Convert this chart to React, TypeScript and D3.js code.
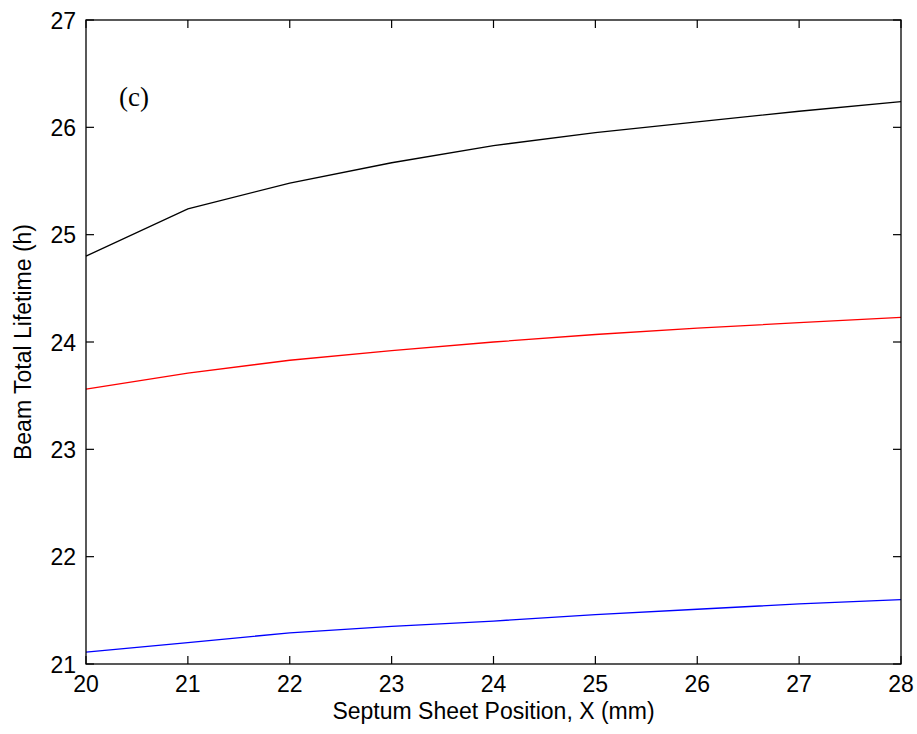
import React from "react";
import * as d3 from "d3";

const xValues = [20, 21, 22, 23, 24, 25, 26, 27, 28];
const blackSeries = [24.8, 25.24, 25.48, 25.67, 25.83, 25.95, 26.05, 26.15, 26.24];
const redSeries = [23.56, 23.71, 23.83, 23.92, 24.0, 24.07, 24.13, 24.18, 24.23];
const blueSeries = [21.11, 21.2, 21.29, 21.35, 21.4, 21.46, 21.51, 21.56, 21.6];
const xTicks = [20, 21, 22, 23, 24, 25, 26, 27, 28];
const yTicks = [21, 22, 23, 24, 25, 26, 27];
const xLabel = "Septum Sheet Position, X (mm)";
const yLabel = "Beam Total Lifetime (h)";
const panelLabel = "(c)";

const W = 917;
const H = 734;
const left = 86;
const right = 901;
const top = 20;
const bottom = 664;
const tickLen = 8;
const font = "'Liberation Sans', Arial, sans-serif";

export default function App() {
  const x = d3.scaleLinear().domain([20, 28]).range([left, right]);
  const y = d3.scaleLinear().domain([21, 27]).range([bottom, top]);
  const line = d3
    .line<number>()
    .x((_, i) => x(xValues[i]))
    .y((d) => y(d));

  const series = [
    { data: blackSeries, color: "#000000" },
    { data: redSeries, color: "#ff0000" },
    { data: blueSeries, color: "#0000ff" },
  ];

  return (
    <svg
      width={W}
      height={H}
      style={{ position: "absolute", left: 0, top: 0, background: "#fff" }}
    >
      <rect x={0} y={0} width={W} height={H} fill="#fff" />
      {series.map((s, i) => (
        <path
          key={i}
          d={line(s.data) || ""}
          fill="none"
          stroke={s.color}
          strokeWidth={1.3}
        />
      ))}
      <rect
        x={left}
        y={top}
        width={right - left}
        height={bottom - top}
        fill="none"
        stroke="#000"
        strokeWidth={1.3}
      />
      {xTicks.map((t) => (
        <g key={"x" + t}>
          <line x1={x(t)} x2={x(t)} y1={bottom} y2={bottom - tickLen} stroke="#000" strokeWidth={1.2} />
          <line x1={x(t)} x2={x(t)} y1={top} y2={top + tickLen} stroke="#000" strokeWidth={1.2} />
          <text
            x={x(t)}
            y={692}
            textAnchor="middle"
            fontFamily={font}
            fontSize={23}
            fill="#000"
          >
            {t}
          </text>
        </g>
      ))}
      {yTicks.map((t) => (
        <g key={"y" + t}>
          <line x1={left} x2={left + tickLen} y1={y(t)} y2={y(t)} stroke="#000" strokeWidth={1.2} />
          <line x1={right} x2={right - tickLen} y1={y(t)} y2={y(t)} stroke="#000" strokeWidth={1.2} />
          <text
            x={76}
            y={y(t) + 8.5}
            textAnchor="end"
            fontFamily={font}
            fontSize={23}
            fill="#000"
          >
            {t}
          </text>
        </g>
      ))}
      <text
        x={(left + right) / 2}
        y={719}
        textAnchor="middle"
        fontFamily={font}
        fontSize={23}
        fill="#000"
      >
        {xLabel}
      </text>
      <text
        transform={`translate(31, ${(top + bottom) / 2}) rotate(-90)`}
        textAnchor="middle"
        fontFamily={font}
        fontSize={23}
        fill="#000"
      >
        {yLabel}
      </text>
      <text
        x={119}
        y={106}
        fontFamily="'Liberation Serif', 'Times New Roman', serif"
        fontSize={27}
        fill="#000"
      >
        {panelLabel}
      </text>
    </svg>
  );
}
